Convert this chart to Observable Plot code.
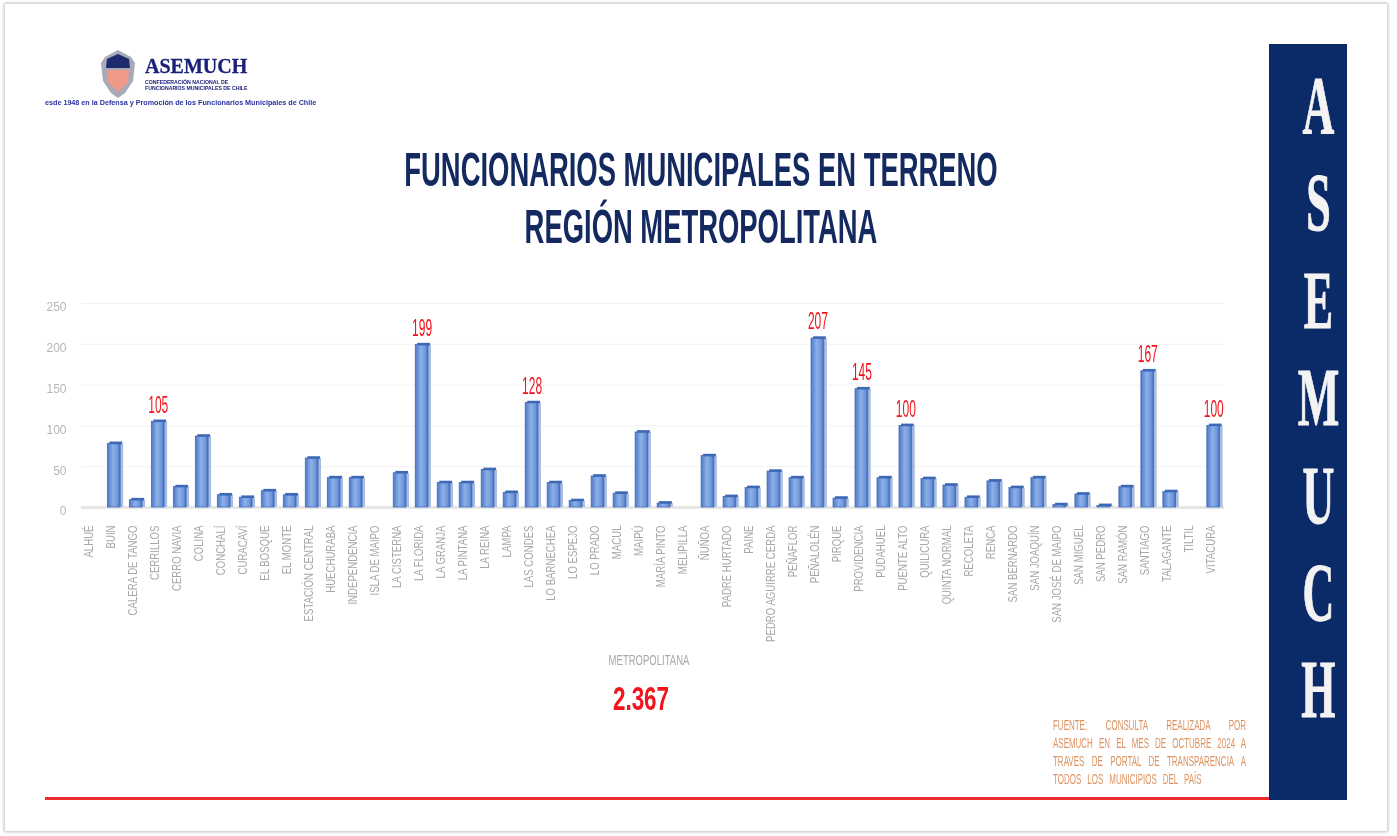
<!DOCTYPE html>
<html lang="es">
<head>
<meta charset="utf-8">
<title>Funcionarios municipales en terreno</title>
<script src="https://cdn.jsdelivr.net/npm/d3@7"></script>
<script src="https://cdn.jsdelivr.net/npm/@observablehq/plot@0.6"></script>
<style>
  html,body{margin:0;padding:0;background:#fff;}
  #page{position:relative;width:1397px;height:836px;overflow:hidden;filter:blur(.55px);}
  #page>*{position:absolute;}
  #card{left:5px;top:4px;width:1382px;height:827px;background:#fff;box-shadow:0 0 3px 1px #bdbdbd;}
  #brand{left:145px;top:53px;font:bold 20px/26px "Liberation Serif",serif;color:#1b2079;white-space:nowrap;-webkit-text-stroke:.3px #1b2079;}
  #brand2{left:145px;top:80px;font:bold 5.2px/5.8px "Liberation Sans",sans-serif;color:#1b2079;white-space:nowrap;}
  #slogan{left:45px;top:99px;font:bold 7.2px/8px "Liberation Sans",sans-serif;color:#2a32a0;white-space:nowrap;}
  #shield{left:100px;top:49px;}
  .title{left:1px;width:1400px;text-align:center;font-family:"Liberation Sans",sans-serif;font-weight:700;color:#14295f;white-space:nowrap;font-size:48px;line-height:56px;transform:scaleX(.571);}
  #t1{top:142px;}
  #t2{top:199px;}
  #panel{left:1269px;top:44px;width:78px;height:756px;background:#0b2a68;}
  .letter{left:1269px;width:98px;text-align:center;font-family:"Liberation Serif",serif;font-weight:700;color:#f3f3f3;font-size:83px;line-height:80px;-webkit-text-stroke:1px #f3f3f3;transform:scaleX(.53);transform-origin:50px 50%;}
  #rule{left:45px;top:797px;width:1224px;height:2.5px;background:#ee2a2e;}
  #metro{left:449px;width:400px;top:652px;text-align:center;font:14px/16px "Liberation Sans",sans-serif;color:#a8a8a8;transform:scaleX(.68);}
  #total{left:441px;width:400px;top:679px;text-align:center;font:bold 34px/38px "Liberation Sans",sans-serif;color:#f2141c;transform:scaleX(.66);}
  .source{left:1053px;width:351px;font:14.5px/18px "Liberation Sans",sans-serif;color:#dd9260;text-align:justify;text-align-last:justify;transform:scaleX(.55);transform-origin:0 50%;}
  .source.last{text-align-last:left;word-spacing:7px;}
  #chart{left:0;top:290px;}
  #chart svg{overflow:visible;}
</style>
</head>
<body>
<svg width="0" height="0" style="position:absolute">
  <defs>
    <linearGradient id="barFace" x1="0" x2="1" y1="0" y2="0">
      <stop offset="0" stop-color="#4c78c6"/>
      <stop offset=".45" stop-color="#8db0e8"/>
      <stop offset=".8" stop-color="#6f96da"/>
      <stop offset="1" stop-color="#3f6cbd"/>
    </linearGradient>
  </defs>
</svg>
<div id="page">
  <div id="card"></div>
  <svg id="shield" width="36" height="50" viewBox="0 0 36 50">
    <path d="M18 1 L31 8 L35 14 L33 32 L25 44 L18 49 L11 44 L3 32 L1 14 L5 8 Z" fill="#a9a9b8"/>
    <path d="M18 5 L29 10 L30 19 L6 19 L7 10 Z" fill="#1d2a6e"/>
    <path d="M7 21 L29 21 L28 33 L18 43 L8 33 Z" fill="#ee9a86"/>
  </svg>
  <div id="brand">ASEMUCH</div>
  <div id="brand2">CONFEDERACIÓN NACIONAL DE<br>FUNCIONARIOS MUNICIPALES DE CHILE</div>
  <div id="slogan">esde 1948 en la Defensa y Promoción de los Funcionarios Municipales de Chile</div>
  <div class="title" id="t1">FUNCIONARIOS MUNICIPALES EN TERRENO</div>
  <div class="title" id="t2">REGIÓN METROPOLITANA</div>
  <div id="chart"></div>
  <div id="metro">METROPOLITANA</div>
  <div id="total">2.367</div>
  <div id="rule"></div>
  <div id="panel"></div>
</div>
<script>
const comunas = ["ALHUÉ","BUIN","CALERA DE TANGO","CERRILLOS","CERRO NAVIA","COLINA","CONCHALÍ","CURACAVÍ","EL BOSQUE","EL MONTE","ESTACIÓN CENTRAL","HUECHURABA","INDEPENDENCIA","ISLA DE MAIPO","LA CISTERNA","LA FLORIDA","LA GRANJA","LA PINTANA","LA REINA","LAMPA","LAS CONDES","LO BARNECHEA","LO ESPEJO","LO PRADO","MACUL","MAIPÚ","MARÍA PINTO","MELIPILLA","ÑUÑOA","PADRE HURTADO","PAINE","PEDRO AGUIRRE CERDA","PEÑAFLOR","PEÑALOLÉN","PIRQUE","PROVIDENCIA","PUDAHUEL","PUENTE ALTO","QUILICURA","QUINTA NORMAL","RECOLETA","RENCA","SAN BERNARDO","SAN JOAQUÍN","SAN JOSÉ DE MAIPO","SAN MIGUEL","SAN PEDRO","SAN RAMÓN","SANTIAGO","TALAGANTE","TILTIL","VITACURA"];
const funcionarios = [0,78,9,105,25,87,15,12,20,15,60,36,36,0,42,199,30,30,46,18,128,30,8,38,17,92,5,0,63,13,24,44,36,207,11,145,36,100,35,27,12,32,24,36,3,16,2,25,167,19,0,100];
const yTicks = [0,50,100,150,200,250];
const umbralEtiqueta = 100;
const siglas = ["A","S","E","M","U","C","H"];
const fuente = ["FUENTE: CONSULTA REALIZADA POR","ASEMUCH EN EL MES DE OCTUBRE 2024 A","TRAVES DE PORTAL DE TRANSPARENCIA A","TODOS LOS MUNICIPIOS DEL PAÍS"];

const rows = comunas.map((comuna, i) => ({comuna, valor: funcionarios[i]}));
const conValor = rows.filter(d => d.valor > 0);

const chart = Plot.plot({
  width: 1397,
  height: 360,
  marginLeft: 81,
  marginRight: 173,
  marginTop: 13,
  marginBottom: 143,
  style: {background: "transparent", fontFamily: '"Liberation Sans",sans-serif'},
  x: {domain: comunas, paddingInner: .42, paddingOuter: .2},
  y: {domain: [0, 250], ticks: yTicks},
  marks: [
    Plot.gridY(yTicks, {stroke: "#f2f2f2", strokeOpacity: 1}),
    Plot.ruleY([0], {stroke: "#e6e6e6", strokeWidth: 3}),
    Plot.axisY(yTicks, {tickSize: 0, tickPadding: 15, fontSize: 12, fill: "#b5b5b5", label: null, dy: 4}),
    Plot.axisX(comunas, {tickSize: 0, tickPadding: 18, tickRotate: -90, fontSize: 12.5, fill: "#a8a8a8", label: null, dx: -3}),
    Plot.barY(conValor, {x: "comuna", y: "valor", fill: "#a9bde0", dx: 3}),
    Plot.barY(conValor, {x: "comuna", y: "valor", fill: "url(#barFace)", stroke: "#3f6cbd", strokeWidth: .8}),
    Plot.tickY(conValor, {x: "comuna", y: "valor", stroke: "#3d68b5", strokeWidth: 2.6, dx: 2, dy: -1}),
    Plot.text(rows.filter(d => d.valor >= umbralEtiqueta), {x: "comuna", y: "valor", text: "valor", dy: -17, fill: "#f2141c", fontSize: 24})
  ]
});

function squeeze(label, sx) {
  chart.querySelectorAll(`g[aria-label="${label}"] text`).forEach(t => {
    t.setAttribute("transform", `${t.getAttribute("transform") || ""} scale(${sx},1)`);
  });
}
squeeze("x-axis tick label", .77);
squeeze("text", .5);
document.getElementById("chart").append(chart);

const page = document.getElementById("page");
siglas.forEach((s, i) => {
  const el = document.createElement("div");
  el.className = "letter";
  el.textContent = s;
  el.style.top = (65 + i * 97.4) + "px";
  page.append(el);
});
fuente.forEach((s, i) => {
  const el = document.createElement("div");
  el.className = "source" + (i === fuente.length - 1 ? " last" : "");
  el.textContent = s;
  el.style.top = (716 + i * 18) + "px";
  page.append(el);
});
</script>
</body>
</html>
